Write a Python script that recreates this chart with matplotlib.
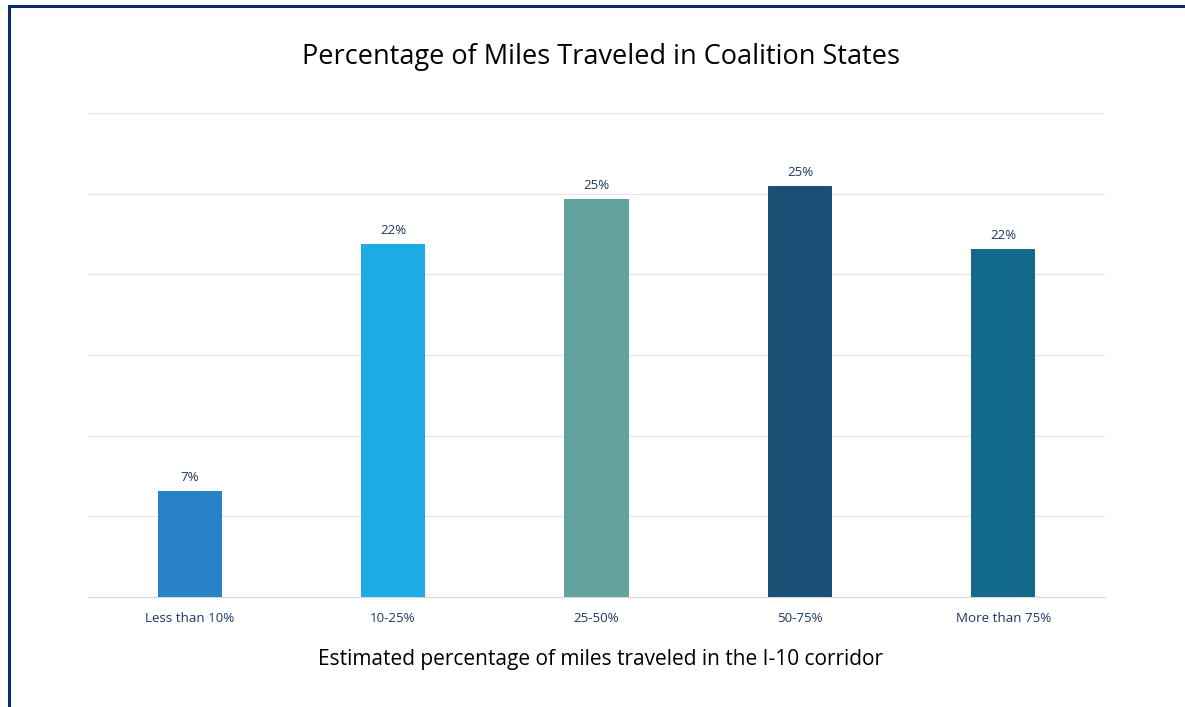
import matplotlib
matplotlib.use('Agg')
import matplotlib.pyplot as plt
from matplotlib.lines import Line2D

categorias = ['Less than 10%', '10-25%', '25-50%', '50-75%', 'More than 75%']
valores = [6.6, 21.9, 24.7, 25.5, 21.6]
etiquetas = ['7%', '22%', '25%', '25%', '22%']
colores = ['#2882c8', '#1eabe3', '#62a39f', '#1b4f75', '#136a8a']

plt.rcParams['font.family'] = ['Open Sans', 'DejaVu Sans']
azul_texto = '#1f3864'

fig = plt.figure(figsize=(11.85, 7.07), dpi=100)
ax = fig.add_axes([88/1185, 1 - 597/707, (1105-88)/1185, (597-113)/707])

x = range(len(categorias))
barras = ax.bar(x, valores, width=0.315, color=colores, zorder=3)
for b, txt in zip(barras, etiquetas):
    ax.annotate(txt, (b.get_x() + b.get_width()/2, b.get_height()),
                xytext=(0, 5), textcoords='offset points', ha='center', va='bottom',
                fontsize=9.5, color=azul_texto)

ax.set_xlim(-0.5, 4.5)
ax.set_ylim(0, 30)
ax.set_yticks(range(0, 31, 5))
ax.yaxis.grid(True, color='#e6e6e6', linewidth=1, zorder=0)
ax.tick_params(axis='y', left=False, labelleft=False)
ax.tick_params(axis='x', length=0, pad=11, labelsize=9.6, labelcolor=azul_texto)
ax.set_xticks(list(x))
ax.set_xticklabels(categorias)
for s in ['top', 'right', 'left']:
    ax.spines[s].set_visible(False)
ax.spines['bottom'].set_color('#d9d9d9')

fig.text(601/1185, 1 - 57/707, 'Percentage of Miles Traveled in Coalition States',
         ha='center', va='center', fontsize=19.5, color='black')
fig.text(601/1185, 1 - 659/707, 'Estimated percentage of miles traveled in the I-10 corridor',
         ha='center', va='center', fontsize=15, color='black')

# marco azul (arriba e izquierda)
fig.add_artist(Line2D([8.5/1185, 1], [1 - 5.5/707, 1 - 5.5/707], transform=fig.transFigure,
                      color='#0d2a6b', linewidth=2.2))
fig.add_artist(Line2D([8.5/1185, 8.5/1185], [0, 1 - 5.5/707], transform=fig.transFigure,
                      color='#0d2a6b', linewidth=2.2))

fig.savefig('out.png', dpi=100)
